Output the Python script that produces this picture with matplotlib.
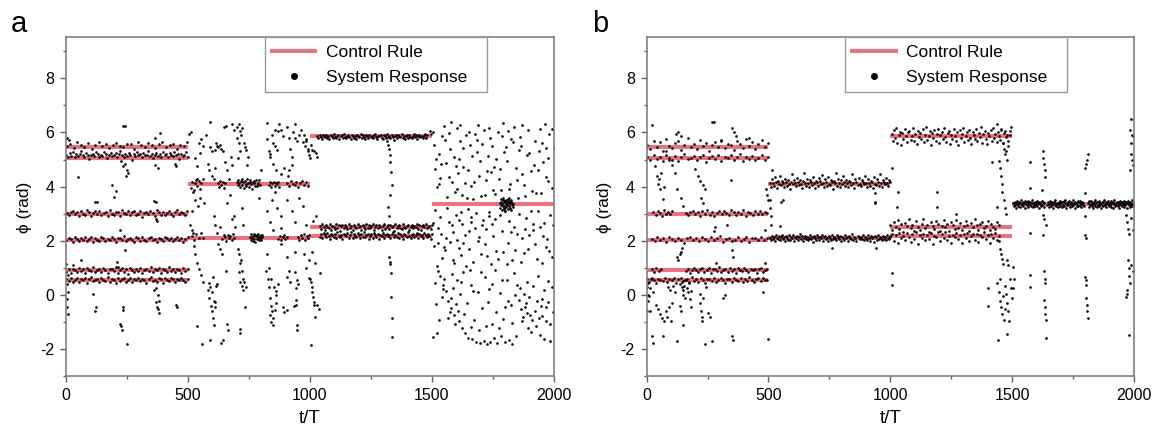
import numpy as np
import matplotlib
matplotlib.use("Agg")
import matplotlib.pyplot as plt
from matplotlib.lines import Line2D
from matplotlib.ticker import MultipleLocator

plt.rcParams["font.family"] = ["Liberation Sans", "DejaVu Sans"]
plt.rcParams["axes.unicode_minus"] = False

# control rule: phase set-point per time window (same for both panels)
rule_t0 = [0, 0, 0, 0, 0, 0, 500, 500, 1000, 1000, 1000, 1500]
rule_t1 = [500, 500, 500, 500, 500, 500, 1000, 1000, 1500, 1500, 1500, 2000]
rule_phi = [5.45, 5.05, 3.0, 2.05, 0.92, 0.55, 4.1, 2.12, 5.85, 2.52, 2.18, 3.35]

x_ticks = [0, 500, 1000, 1500, 2000]
y_ticks = [-2, 0, 2, 4, 6, 8]

# ---- panel a: runs of samples locked to a set-point, offsets in 0.01 rad ----
a_dy_545 = [5, 12, -3, 18, 8, 2, 15, -6, 10, 20, 4, 13, -2, 9, 17, 6, 0, 14, 11, -5, 19, 7, 3, 16, 9,
            -4, 12, 21, 1, 8, 14, -7, 10, 5, 18]
a_dy_505 = [12, 5, 18, 9, 22, 3, 14, 8, 16, 25, 10, 6, 19, 13, -2, 11, 17, 7, 21, 15, 4, 12, 9, 24, 16,
            1, 13, 20, 8, 11, 18, 6, 14, 27, 10, 3, 15, 9, 19, 12, -5, 16, 7, 22, 11, 14, 5, 18, 10, 13,
            26, 8, 17, 2, 12, 20, 9, 15, 6, 23, 11, 16, 4, 19, 13, 7, 21, 10, 14, -3, 17, 9, 12, 24, 6]
a_dy_300 = [3, -6, 8, 12, -2, 5, -9, 10, 1, -4, 14, 6, -8, 2, 9, -1, 11, -5, 4, 7, -10, 13, 0, -3, 8,
            5, -7, 15, 2, -2, 10, -6, 6, 12, -4, 1, 9, -11, 4, 7, -1, 11, 3, -8, 13, 5, -3, 8, -5, 2,
            10, 0, -9, 6, 14, -2, 7, 3, -6, 9]
a_dy_205 = [-3, 5, 1, -8, 9, 3, -5, 7, -1, 11, -6, 2, 8, -10, 4, 0, -4, 10, 6, -7, 3, -2, 9, 1, -9,
            5, 7, -3, 12, -5, 2, 6, -1, -8, 8, 4, -4, 10, 0, -6, 5, 9, -2, 3, -10, 7, 1, -5, 11, 4,
            -3, 6, -7, 2, 8, -1, 5, -9, 3, 10]
a_dy_092 = [-5, 3, -10, 6, 0, -7, 9, -2, 4, -12, 7, 1, -4, 10, -8, 2, 5, -6, 8, -1, -11, 6, 3, -3, 11,
            -9, 0, 7, -5, 4, -13, 9, 2, -6, 5, -2, 8, -10, 1, 6, -4, 10, -7, 3, -1, 7, -9, 5, 0, -5,
            12, -3, 4, -8, 6, 2, -11, 8, -2, 3]
a_dy_055 = [4, -3, 8, -7, 1, 10, -5, 5, -1, 7, -9, 3, 11, -4, 0, 6, -8, 9, 2, -2, 12, -6, 4, 1, -10,
            7, -3, 5, 9, -5, 0, 8, -7, 3, -1, 10, -4, 6, 2, -9, 5, 11, -2, 1, -6, 8, 3, -11, 7, 0,
            -3, 9, 4, -7, 6, -1, 10, 2, -5, 5]
a_dy_410a = [-15, 8, -22, 3, 15, -8, 10, -18, 5, 18]
a_dy_410b = [5, -10, 12, -4, 8, -15, 2]
a_dy_410c = [8, -5, 15, 2, -12, 10, 20, -3, 6, -15, 12, 1, -8, 18, 4, -10, 9, 14, -2, -18, 7, 11, 3,
             -6, 16, -9, 5, 0, 13, -4]
a_dy_410d = [-5, 6, -12, 2, 9, -8, 3, -2, 7, -10]
a_dy_410e = [4, -8, 10, 0, -5, 7, -10, 3, 12, -3, 6, -6]
a_dy_212a = [5, -8, 12, -3, 18, 0]
a_dy_212b = [-6, 8, 2, -12, 10, -2, 5, -9, 14, 0]
a_dy_212c = [3, -8, 12, 0, -12, 7, 15, -4, 9, -15, 5, 10, -6, 2, 13, -10, 6, -3, 11, -7, 8, 1]
a_dy_212d = [-4, 6, -10, 3, 9, -6, 1]
a_dy_212e = [2, -7, 9, -3, 12, -10, 5, 0, 8]
a_dy_585 = [2, -5, 6, -1, -8, 4, 0, -3, 7, -6, 3, -10, 5, 1, -4, 8, -2, -7, 3, 6, -9, 0, 4, -5, 9,
            -1, -6, 2, 5, -3, -11, 7, 1, -4, 3, -8, 6, 0, -2, 10, -6, 4, -1, -9, 5, 2, -5, 7, -3, 1,
            -7, 4, 8, -2, -10, 3, 0, 6, -4, -8, 5, 1, -6, 9, -1, 3, -5, 7, -3, -12, 2, 4, -7, 6, 0,
            -2, 8, -5, 3, -9, 1, 5, -4, 7, -1, -6, 2, 10, -3, 4, -8, 0, 6, -2, 3, -5, 1, 8, -7, 4]
a_dy_252 = [3, -8, 10, -2, -12, 6, 1, -5, 9, -10, 4, 0, -7, 11, -3, 7, -14, 2, 8, -6, 5, -1, -9, 12,
            -4, 3, -11, 6, 0, -5, 9, -2, 4, -13, 7, 1, -8, 10, -3, 5, -6, 2, 11, -10, 0, 6, -4, 8,
            -1, -12, 3, 9, -7, 1, 5, -9, 7, -2, 4, -15, 10, -5, 2, 6, -3, -8, 12, 0, -6, 4, 8, -11,
            1, 7, -4, 3, -1, 9, -7, 5, -10, 2, 6, -2, 11, -5, 0, 4, -9, 8]
a_dy_218 = [-2, 6, -8, 10, 3, -5, 12, 0, -10, 7, 2, -4, 9, -7, 14, 1, -3, 5, -11, 8, 4, -1, 11, -6,
            3, 13, -9, 6, 0, -5, 10, 2, -8, 7, -2, 15, -4, 4, 9, -12, 1, 6, -6, 11, 3, -3, 8, -10, 5,
            0, 12, -7, 2, 9, -1, 4, -9, 7, 13, -5, 3, -2, 10, -8, 6, 1, -11, 8, 4, -4, 14, 0, -6, 5,
            9, -3, 2, 11, -9, 7, -1, 3, -7, 12, 5, -5, 8, 0, -10, 6]
a_dy_335 = [5, -12, 18, -3, 10, -20, 2, 14, -8, 22, -15, 7, -5, 12, -25, 0, 16, -10, 8, -2, 20, -18,
            4, 11, -7, 25, -13, 3, 9, -22, 15, -4, 6, -9, 1]

a_run_t0 = [3, 2, 3, 2, 2, 2, 512, 622, 700, 832, 905, 518, 640, 755, 870, 950, 1030, 1040, 1040, 1778]
a_run_t1 = [497, 498, 497, 498, 498, 498, 560, 652, 795, 875, 992, 560, 690, 805, 905, 998, 1480, 1500,
            1500, 1832]
a_run_phi = [5.45, 5.05, 3.0, 2.05, 0.92, 0.55, 4.1, 4.1, 4.1, 4.1, 4.1, 2.12, 2.12, 2.12, 2.12, 2.12,
             5.85, 2.52, 2.18, 3.35]
a_run_dy = [a_dy_545, a_dy_505, a_dy_300, a_dy_205, a_dy_092, a_dy_055, a_dy_410a, a_dy_410b,
            a_dy_410c, a_dy_410d, a_dy_410e, a_dy_212a, a_dy_212b, a_dy_212c, a_dy_212d, a_dy_212e,
            a_dy_585, a_dy_252, a_dy_218, a_dy_335]

# ---- panel a: samples away from the set-points (t/T, phi) ----
a_scatter = [
    # t < 500
    (2, 1.15), (3, 5.8), (4, 0.4), (5, -0.15), (6, -0.45), (7, -0.7), (8, 0.1), (9, 0.75), (12, 5.72),
    (30, 1.1), (50, 4.37), (60, 1.3), (112, 0.06), (118, -0.6), (121, -0.45), (120, 3.45), (128, 3.42),
    (190, 4.05), (197, 3.62), (205, 3.85), (207, 1.22), (212, 1.05), (221, 2.42), (222, -1.05),
    (225, 4.95), (226, -1.15), (230, -1.3), (232, 6.25), (232, -0.45), (234, -0.55), (235, 4.75),
    (240, 6.22), (240, 4.85), (241, 1.65), (245, 4.4), (248, 4.6), (248, -1.82), (255, 4.5),
    (362, 0.2), (362, 3.48), (365, 5.8), (365, 4.8), (368, 0.27), (368, -0.25), (370, 3.45),
    (372, -0.45), (376, -0.5), (378, 4.7), (378, 0.0), (380, -0.2), (383, -0.65), (385, 5.97),
    (368, 2.8), (375, 2.75), (445, 4.85), (452, 4.75), (452, -0.35), (455, -0.45),
    # 500 - 1000, upper
    (505, 5.95), (514, 6.02), (520, 3.8), (528, 3.5), (530, 5.05), (535, 4.3), (538, 4.75), (545, 5.6),
    (548, 5.25), (550, 3.6), (555, 5.75), (560, 5.5), (565, 3.4), (575, 5.9), (580, 4.85), (585, 4.6),
    (590, 5.45), (590, 6.4), (598, 4.4), (600, 5.3), (605, 4.3), (610, 5.35), (612, 4.7), (615, 5.6),
    (620, 5.5), (625, 5.45), (630, 5.55), (635, 5.4), (645, 5.3), (648, 6.2), (652, 4.9), (656, 6.22),
    (660, 4.6), (668, 4.3), (675, 5.1), (680, 6.3), (682, 4.8), (690, 6.1), (700, 6.2), (700, 5.8),
    (705, 5.05), (708, 6.3), (710, 5.6), (712, 6.05), (715, 5.3), (718, 5.9), (722, 6.15), (728, 5.6),
    (732, 5.45), (738, 5.35), (742, 4.8), (745, 5.1), (790, 3.6), (800, 4.6), (822, 5.75), (825, 6.35),
    (830, 5.3), (835, 5.2), (838, 5.1), (845, 5.9), (848, 4.85), (850, 5.6), (855, 6.1), (858, 5.5),
    (860, 4.6), (865, 5.35), (870, 6.05), (875, 6.3), (880, 4.45), (883, 6.1), (890, 5.85), (895, 4.7),
    (905, 6.2), (910, 4.4), (912, 4.6), (915, 5.8), (920, 5.4), (925, 5.1), (926, 4.8), (930, 6.0),
    (938, 5.8), (940, 6.3), (945, 5.7), (955, 5.9), (962, 6.1), (970, 5.65), (975, 5.9), (978, 5.5),
    (982, 5.7), (985, 5.75), (990, 5.3), (992, 5.4), (995, 5.15), (1000, 5.05),
    # 500 - 1000, middle
    (510, 2.6), (515, 2.4), (518, 3.1), (540, 3.3), (605, 2.9), (612, 2.6), (618, 2.3), (625, 1.9),
    (630, 2.5), (632, 1.7), (640, 1.5), (660, 3.4), (672, 3.7), (680, 2.8), (688, 2.9), (692, 2.5),
    (703, 1.7), (708, 1.5), (712, 1.2), (720, 3.2), (726, 2.6), (822, 3.1), (835, 2.7), (845, 3.5),
    (850, 2.4), (858, 3.8), (866, 3.2), (880, 2.9), (883, 2.48), (905, 3.5), (925, 3.1), (940, 2.7),
    (955, 3.6), (970, 3.3), (985, 2.6),
    # 500 - 1000, lower
    (520, 2.3), (525, 1.8), (530, 1.5), (535, -1.15), (538, 1.2), (545, 0.95), (555, 0.75),
    (556, -1.8), (560, 0.5), (580, 0.2), (585, 0.45), (588, -0.1), (592, 0.3), (595, -0.4),
    (598, -0.6), (600, 0.1), (601, 0.68), (602, -0.85), (605, -0.2), (606, -1.1), (610, -0.45),
    (612, -0.25), (615, 0.35), (620, 0.4), (590, -1.65), (637, -1.78), (645, -1.65), (660, -1.05),
    (665, -1.3), (655, 0.9), (708, 0.85), (715, 0.5), (716, 1.3), (720, 0.9), (721, 0.35), (725, 0.6),
    (726, 0.2), (730, 0.5), (735, -0.45), (736, 0.3), (712, -1.25), (715, -1.4), (820, 0.9),
    (825, 1.5), (826, 0.6), (830, 1.0), (831, 0.3), (835, -0.1), (838, -0.75), (840, -0.4),
    (841, 0.6), (842, -1.0), (845, -0.6), (848, -1.1), (850, -0.85), (851, 0.3), (855, -0.55),
    (860, -0.3), (861, 0.0), (862, 0.15), (870, 0.4), (890, -0.45), (892, -0.61), (883, 1.87),
    (904, 0.67), (905, -0.55), (906, 1.4), (912, 0.9), (918, 0.5), (935, -0.4), (940, 1.59),
    (940, 0.86), (941, 0.25), (942, -0.18), (943, -0.37), (945, -1.1), (946, -1.29), (948, 0.55),
    (952, 0.4), (975, 1.5), (985, 1.0), (995, 0.65), (997, 1.28),
    # 1000 - 1500
    (1002, 0.61), (1005, 0.49), (1008, 0.31), (1010, 0.12), (1012, -0.06), (1015, -0.24),
    (1018, -0.37), (1020, -0.8), (1004, -1.84), (1040, 0.8), (1030, -0.37), (1035, -0.5),
    (1005, 5.55), (1010, 5.35), (1018, 5.3), (1025, 5.25), (1030, 5.1), (1012, 2.75), (1025, 2.9),
    (1010, 1.6), (1020, 1.2), (1315, 5.7), (1320, 5.55), (1322, 5.4), (1326, 5.15), (1330, 4.9),
    (1334, 4.55), (1337, 4.05), (1328, 3.7), (1318, 3.24), (1325, 1.41), (1328, 1.23), (1330, 1.16),
    (1332, 0.8), (1334, -0.06), (1336, -0.86), (1338, -1.53), (1322, 2.9), (1490, 6.05), (1495, 5.95),
    # 1500 - 2000, upper
    (1731, 5.12), (1568, 4.37), (1894, 6.08), (1622, 3.71), (1807, 4.93), (1543, 5.86), (1976, 4.21),
    (1689, 6.27), (1512, 4.64), (1853, 3.58), (1745, 5.49), (1601, 6.15), (1938, 5.33), (1659, 4.02),
    (1784, 3.89), (1527, 5.21), (1962, 6.31), (1616, 5.68), (1871, 4.47), (1702, 3.64), (1557, 4.88),
    (1823, 5.77), (1990, 3.95), (1647, 4.61), (1769, 6.02), (1508, 5.55), (1917, 4.79), (1676, 5.94),
    (1593, 3.82), (1838, 6.19), (1721, 4.26), (1952, 5.61), (1580, 6.38), (1796, 5.28), (1634, 4.14),
    (1883, 3.67), (1534, 4.33), (1756, 4.71), (1999, 5.42), (1668, 3.53), (1611, 5.03), (1862, 5.84),
    (1713, 6.09), (1928, 3.78), (1549, 6.22), (1819, 4.1), (1698, 4.95), (1575, 5.38), (1905, 4.56),
    (1760, 3.74), (1639, 5.91), (1974, 5.07), (1521, 3.99), (1846, 4.68), (1683, 5.26), (1606, 4.49),
    (1943, 6.11), (1738, 5.81), (1792, 6.33), (1562, 3.61), (1889, 5.17), (1652, 6.02), (1815, 3.93),
    (1707, 5.57), (1537, 4.83), (1966, 4.34), (1629, 5.41), (1775, 4.28), (1870, 6.26), (1589, 5.09),
    (1921, 5.69), (1671, 4.18), (1749, 3.86), (1503, 6.01), (1857, 5.36), (1726, 4.58), (1981, 5.93),
    (1597, 4.76), (1645, 3.57), (1831, 5.63), (1763, 5.01), (1909, 3.84), (1553, 5.72), (1694, 4.41),
    (1613, 6.29), (1876, 4.05), (1956, 4.9), (1735, 6.18), (1581, 4.17), (1803, 5.46), (1663, 5.14),
    (1933, 4.63), (1516, 5.03), (1848, 4.24), (1719, 3.69), (1787, 5.88), (1627, 4.72), (1994, 6.12),
    (1571, 5.97), (1899, 5.25), (1656, 5.52), (1742, 4.53), (1529, 4.09), (1812, 6.05), (1946, 3.76),
    (1685, 5.73), (1604, 3.92), (1866, 5.49), (1779, 4.66), (1969, 5.44),
    # 1500 - 2000, middle
    (1693, 2.14), (1541, 1.37), (1887, 2.83), (1617, 3.06), (1764, 1.62), (1523, 2.49), (1952, 1.18),
    (1658, 2.71), (1811, 1.94), (1586, 2.32), (1935, 3.12), (1724, 1.46), (1507, 1.83), (1849, 2.27),
    (1640, 1.09), (1778, 2.96), (1973, 2.06), (1563, 3.21), (1706, 2.58), (1829, 1.28), (1609, 1.74),
    (1916, 2.42), (1681, 3.03), (1752, 2.19), (1532, 2.87), (1878, 1.56), (1625, 2.63), (1992, 1.41),
    (1794, 3.17), (1573, 1.96), (1740, 1.13), (1858, 3.01), (1651, 1.69), (1923, 1.88), (1514, 3.14),
    (1711, 2.76), (1836, 2.51), (1599, 2.94), (1961, 2.66), (1669, 1.24), (1786, 2.38), (1548, 1.76),
    (1904, 3.09), (1732, 2.91), (1635, 2.23), (1871, 2.09), (1592, 1.19), (1817, 2.72), (1978, 1.61),
    (1700, 1.52), (1559, 2.12), (1944, 2.53), (1661, 2.88), (1770, 1.34), (1519, 1.08), (1894, 1.71),
    (1621, 1.47), (1801, 3.11), (1746, 2.64), (1984, 2.97), (1581, 2.57), (1863, 1.22), (1688, 1.98),
    (1930, 1.32), (1536, 2.26), (1758, 2.81), (1646, 3.16), (1822, 2.31), (1604, 2.04), (1913, 2.61),
    (1716, 1.89), (1570, 2.69), (1841, 1.67), (1956, 2.18), (1675, 2.46), (1503, 2.67), (1790, 1.58),
    (1628, 1.91), (1881, 2.45), (1735, 3.08), (1555, 1.65), (1969, 1.79), (1653, 2.36), (1807, 1.15),
    (1587, 1.29), (1899, 2.22), (1722, 2.44), (1526, 1.91), (1997, 2.58), (1612, 2.78),
    # 1500 - 2000, lower
    (1547, 0.38), (1566, -0.21), (1592, -0.73), (1534, 0.72), (1611, -0.94), (1558, 0.14),
    (1579, -0.48), (1603, 0.55), (1541, -0.06), (1588, 0.27), (1625, -1.22), (1572, -0.62),
    (1551, 0.61), (1597, -0.31), (1616, 0.04), (1564, -0.83), (1637, -1.41), (1583, 0.79),
    (1606, -0.57), (1545, 0.24), (1649, -1.57), (1620, 0.48), (1576, -0.12), (1663, -1.63),
    (1631, -0.69), (1594, -1.05), (1681, -1.72), (1658, 0.36), (1697, -1.76), (1642, -0.28),
    (1712, -1.69), (1673, -0.91), (1725, -1.8), (1690, 0.12), (1706, -0.47), (1739, -1.74),
    (1661, -1.18), (1718, 0.68), (1753, -1.58), (1731, -0.24), (1768, -1.77), (1746, 0.41),
    (1784, -1.49), (1762, -0.63), (1798, -1.71), (1777, 0.09), (1814, -1.66), (1791, -0.88),
    (1829, -1.79), (1806, 0.57), (1843, -1.52), (1822, -0.37), (1858, -0.18), (1866, -0.52),
    (1873, -0.81), (1861, 0.26), (1880, -0.44), (1869, -0.97), (1888, -0.66), (1877, 0.03),
    (1895, -1.23), (1884, -0.29), (1903, -0.73), (1891, 0.47), (1912, -0.9), (1898, -0.08),
    (1921, -0.58), (1907, -1.37), (1929, -0.21), (1916, 0.33), (1937, -0.86), (1926, -1.14),
    (1945, -0.39), (1934, 0.71), (1953, -0.77), (1941, -1.46), (1961, 0.18), (1949, -0.16),
    (1969, -0.95), (1958, -1.6), (1977, 0.52), (1966, -0.42), (1985, -1.08), (1974, -0.27),
    (1993, 0.29), (1982, -1.68), (1998, -0.61), (1511, 0.46), (1519, -1.39), (1504, -1.53),
    (1526, 0.88), (1515, -0.33), (1530, -0.9), (1700, 0.84), (1735, 0.22), (1759, 0.93), (1787, 0.55),
    (1811, -0.21), (1835, 0.81), (1850, 0.37), (1654, 0.92), (1668, 0.17), (1628, 0.86),
    (1746, -1.05), (1773, -1.21), (1799, -0.44), (1827, -1.02), (1840, 0.02), (1693, -1.29),
    (1723, -1.12),
]

# ---- panel b: runs of samples locked to a set-point, offsets in 0.01 rad ----
b_dy_545 = [10, -8, 25, 3, 18, -12, 30, 6, -4, 15, 22, -10, 8, 33, 0, 12, -6, 27, 4, 17, -14, 9, 20,
            1, 28, -3, 14, 7, -9, 24, 11, -1, 31, 5, 19, -7, 13, 26, 2, 16]
b_dy_505 = [3, -8, 10, -2, 6, -12, 12, 1, -5, 8, -10, 4, 14, -3, 0, 9, -7, 5, 11, -14, 2, 7, -4, 13,
            -9, 6, -1, 10, -6, 3, 15, -11, 5, -3, 8, -7, 1, 12, -5, 4]
b_dy_300a = [5, -6, 10, 2, -8, 13, -2, 7, 0, 11]
b_dy_300b = [3, -5, 8, 12, -2, 6, -9, 10, 1, 15, -4, 7, -7, 4, 11, -1, 9, 2, -6, 13, 5, -3, 8, 0, 14,
             -8, 6, 3, -5, 10, 1, 12, -2, 7, 4]
b_dy_205 = [2, -6, 8, -1, 5, -9, 10, 3, -4, 7, 0, -11, 6, 9, -3, 4, -7, 11, 1, -5, 8, -2, 5, 12, -8,
            3, 7, -4, 0, 10, -6, 2, 9, -10, 4, 6, -1, 11, -3, 5]
b_dy_092a = [3, -6, 8, -2, 5]
b_dy_092b = [-4, 6, -9, 2, 8, -1, -7, 4, 9, -5, 0, 7, -10, 3, 6, -3, 10, -8, 1, 5, -6, 8, -2, 4, -11,
             7, 0, -4, 9, 2, -7, 5, -1, 6, -9, 3, 8, -5, 1, 4]
b_dy_055 = [4, -5, 8, 0, -9, 6, 2, -3, 10, -7, 5, -1, 7, -11, 3, 9, -4, 1, 6, -8, 11, -2, 4, -6, 8,
            0, -10, 5, 3, -4, 9, -7, 2, 7, -1, -9, 6, 4, -5, 10, 1, -3, 8, -8, 5, -2, 12, 0, -6, 3,
            7, -4, 9, -1, 2]
b_dy_410 = [5, -10, 18, 2, -6, 25, 8, -15, 12, 0, 30, -4, 10, 3, -12, 20, 6, -8, 15, 1, -20, 9, 35,
            -2, 13, 4, -9, 22, 7, -5, 16, 0, -14, 11, 40, 3, -7, 19, 5, -11, 14, 8, -3, 27, 2, -16,
            12, 6, -6, 21, 10, -1, 33, 4, -13, 17, 7, -8, 24, 1, -4, 15, 9, -18, 12, 3, 42, -6, 20,
            5, -10, 13, 0, 28, 8, -7, 16, 2, -12, 11, 6, -3, 36, 4, -15, 18, 9, -5, 23, 1, -9, 14, 7,
            -2, 30, 3, -11, 19, 5, -6, 12, 8, -14, 26, 0, -4, 17, 6, -8, 38, 2, -10, 15, 9, -1, 22,
            4, -7, 13, 7]
b_dy_210 = [2, -6, 8, -3, 5, -10, 11, 0, -4, 7, -8, 3, 13, -2, 6, -12, 9, 1, -5, 10, -7, 4, 0, 12,
            -9, 5, -1, 8, -6, 3, 14, -3, 7, -11, 2, 9, -4, 6, -8, 1, 11, -2, 5, -13, 8, 0, -5, 10, 3,
            -7, 6, -1, 12, -9, 4, 7, -3, 2, -10, 9, 1, -6, 13, -4, 5, 0, -8, 11, 3, -2, 7, -12, 6, 2,
            -5, 10, -1, 4, -9, 8, 0, -3, 14, -7, 5, 1, -11, 9, 3, -4, 6, -2, 12, -8, 4, 0, -6, 10, 2,
            -10, 7, -1, 5, -13, 9, 3, -5, 11, -3, 6, 1, -8, 8, -2, 4, -7, 13, 0, -4, 7]
b_dy_585 = [10, -15, 25, -5, 30, -25, 5, 18, -30, 12, -8, 28, 0, -20, 15, 22, -12, 3, 33, -18, 8, -28,
            20, -2, 14, -10, 26, -22, 6, 35, -14, 1, 19, -32, 11, -6, 24, -17, 9, 29, -24, 4, 16, -9,
            31, -3, -19, 13, 21, -27, 7, -11, 27, 2, -16, 17, -33, 23, -7, 10, 32, -21, 0, 15, -13,
            25, -4, -26, 18, 5, -10, 28, -18, 12, -1, 34, -23, 8, 20, -8, -29, 14, 3, 24, -15, 30, -5,
            9, -20, 16, 1, -12, 26, -25, 11, 19, -3, 6, -17, 22]
b_dy_252 = [5, -12, 18, 0, 25, -8, 10, -18, 14, 3, 28, -5, 8, -15, 20, 1, -10, 12, 30, -3, 6, -20, 16,
            2, -7, 22, 9, -14, 4, 26, -1, 11, -17, 19, 7, -9, 24, -4, 13, -12, 2, 21, 8, -16, 15, -2,
            27, 5, -11, 10, 18, -6, 3, 23, -13, 12, 0, -8, 17, 6]
b_dy_218 = [-5, 8, -18, 3, -25, 10, -8, 0, -14, 12, -2, -22, 6, -10, 14, -28, 2, -6, 9, -16, 4, -12,
            11, -30, 1, -4, 13, -20, 7, -9, 15, -15, 0, -24, 5, -3, 10, -11, 3, -27, 8, -7, 12, -18,
            -1, 6, -13, 9, -21, 2, -5, 14, -10, 4, -26, 7, -8, 11, -15, 0]
b_dy_335a = [3, -8, 10, -2, 6, -12, 12, 0, -5, 8, -10, 4, 14, -3, 1, 9, -7, 5, 11, -14, 2, 7, -4, 13,
             -9, 6, -1, 10, -6, 3, 15, -11, 5, -3, 8, -7, 1, 12, -5, 4, -13, 9, 0, 6, -8, 11, -2, 7,
             -10, 3]
b_dy_335b = [-4, 7, -10, 2, 12, -6, 5, -1, 9, -13, 3, 8, -3, 14, -8, 1, 6, -11, 10, 0, -5, 13, 4, -9,
             7, -2, 11, -7, 3, 15, -12, 5, -1, 9, -4, 12, 2, -10, 8, -6, 0, 14, -3, 6, -14, 10, 1, -8,
             4, 11, -5, 7, -2, 13, -9, 3, 9, -1, 5, -7]
b_dy_335c = [6, -9, 11, -3, 2, 13, -7, 4, -12, 9, 0, -5, 14, 3, -10, 8, -2, 12, -6, 5, 1, -14, 10, -1,
             7, -8, 15, 2, -4, 9, -11, 6, 0, 12, -7, 3, -3, 11, -9, 5, 8, -13, 1, 14, -5, 4, -1, 10,
             -8, 7, 2, -12, 13, -3, 6, -6, 9, 0, -10, 11, 4, -2, 8, -15, 3, 12, -4, 5, -9, 10, 1, -7,
             14, -1, 6]

b_run_t0 = [3, 3, 28, 160, 20, 20, 160, 2, 505, 505, 1005, 1000, 1000, 1505, 1645, 1812]
b_run_t1 = [497, 497, 105, 495, 495, 60, 495, 495, 998, 998, 1490, 1445, 1445, 1632, 1795, 1998]
b_run_phi = [5.45, 5.05, 3.0, 3.0, 2.05, 0.92, 0.92, 0.55, 4.1, 2.1, 5.85, 2.52, 2.18, 3.35, 3.35, 3.35]
b_run_dy = [b_dy_545, b_dy_505, b_dy_300a, b_dy_300b, b_dy_205, b_dy_092a, b_dy_092b, b_dy_055,
            b_dy_410, b_dy_210, b_dy_585, b_dy_252, b_dy_218, b_dy_335a, b_dy_335b, b_dy_335c]

# ---- panel b: samples away from the set-points (t/T, phi) ----
b_scatter = [
    # t < 500
    (2, 0.3), (3, -0.6), (4, 0.0), (5, -0.2), (7, 0.45), (10, -0.05), (12, 0.25), (14, -0.57),
    (18, 0.6), (20, 6.27), (20, -1.5), (27, -1.75), (25, 0.1), (35, 4.75), (40, -0.35), (42, 4.4),
    (48, 4.1), (48, -0.5), (52, 4.3), (55, 3.9), (55, -0.7), (60, 4.5), (62, -0.85), (65, 3.55),
    (68, -1.5), (70, 4.0), (70, -0.95), (78, -0.6), (80, 5.3), (85, -0.8), (88, 0.3), (90, 5.0),
    (92, -0.45), (95, 0.2), (100, -0.95), (105, 4.8), (105, -0.3), (110, 0.35), (115, 4.5), (118, 0.1),
    (122, 5.95), (123, -1.7), (125, 3.9), (125, 1.4), (130, 6.0), (130, 1.3), (135, 1.5), (137, -0.4),
    (138, 0.4), (140, 3.6), (140, 5.85), (141, 1.6), (142, -0.6), (143, 0.3), (145, 1.75), (146, 0.5),
    (148, 0.0), (150, 3.3), (150, 0.2), (151, -1.1), (155, 0.35), (158, -0.1), (160, 0.55), (165, 0.25),
    (170, 0.1), (175, 0.45), (177, -0.15), (180, 0.15), (181, -0.45), (200, 4.65), (210, 4.4),
    (218, -0.3), (219, 0.05), (220, 4.2), (222, -0.6), (225, 3.6), (226, -0.8), (228, -0.95),
    (230, 4.05), (231, -0.1), (232, 3.4), (240, 3.9), (241, -1.8), (245, 0.3), (252, -0.65),
    (258, -0.8), (267, 6.4), (268, -1.7), (275, 6.38), (276, 2.35), (282, 2.5), (283, 1.2),
    (305, 5.7), (315, -0.1), (323, 0.0), (330, 2.6), (345, 4.25), (350, 1.65), (351, -1.5),
    (352, 6.15), (355, 1.4), (356, -1.65), (360, 6.0), (368, 5.85), (420, 5.8), (478, 0.1),
    (485, 1.2), (486, 2.4), (488, 3.9), (493, 3.7), (496, -1.6), (498, 3.5),
    # 500 - 1000
    (505, 3.5), (508, 3.2), (510, 2.9), (512, 2.6), (515, 4.6), (547, 2.54), (553, 3.45), (560, 3.5),
    (760, 1.75), (937, 3.4), (938, 3.75), (939, 3.45), (940, 1.75),
    # 1000 - 1500
    (1005, 0.82), (1006, 0.37), (1005, 4.7), (1030, 3.8), (1190, 3.8), (1418, 4.9), (1026, 3.25),
    (1192, 3.25), (1270, 3.0), (1440, 3.25), (1440, 6.3), (1455, 6.1), (1462, 5.6), (1468, 5.4),
    (1472, 5.2), (1475, 5.3), (1480, 5.0), (1485, 5.5), (1490, 5.9), (1495, 6.2), (1448, 4.95),
    (1452, 4.7), (1455, 4.4), (1458, 4.1), (1460, 3.8), (1465, 3.5), (1470, 3.2), (1475, 3.0),
    (1445, 2.0), (1450, 1.7), (1455, 1.5), (1460, 1.35), (1462, 1.15), (1480, 1.3), (1482, 1.1),
    (1400, 0.25), (1400, -0.4), (1440, 0.45), (1445, 0.1), (1450, -0.2), (1455, -0.45), (1460, -0.7),
    (1465, -0.9), (1470, 0.35), (1475, 0.05), (1480, -0.3), (1485, -0.6), (1490, 0.6), (1495, 0.25),
    (1500, -0.1), (1452, 0.6), (1462, -0.05), (1472, -0.5), (1488, -0.95), (1443, -1.65),
    (1478, -1.45), (1505, 1.05), (1508, 0.6), (1505, 0.25),
    # 1500 - 2000
    (1573, 4.92), (1573, 3.94), (1573, 2.3), (1573, 0.74), (1574, 0.31), (1625, 5.3), (1628, 5.05),
    (1630, 4.85), (1633, 4.6), (1636, 4.35), (1622, 3.88), (1625, 2.96), (1628, 2.23), (1630, 0.88),
    (1633, 0.6), (1636, 0.44), (1632, -0.18), (1634, -0.45), (1636, -0.7), (1638, -0.92),
    (1640, -1.58), (1630, 2.8), (1640, 2.6), (1810, 5.2), (1807, 5.0), (1803, 4.85), (1800, 4.7),
    (1798, 3.76), (1800, 2.9), (1800, 2.2), (1803, 2.1), (1800, 0.66), (1802, 0.55), (1805, 0.37),
    (1805, -0.1), (1807, -0.35), (1808, -0.6), (1810, -0.85), (1990, 6.5), (1985, 6.1), (1992, 5.9),
    (1995, 5.85), (1988, 5.6), (1990, 5.2), (1993, 5.0), (1996, 4.8), (1985, 4.6), (1968, 2.95),
    (1972, 2.7), (1975, 2.45), (1978, 2.25), (1990, 2.85), (1995, 2.4), (1975, 1.3), (1978, 1.0),
    (1980, 0.7), (1982, 0.45), (1970, 0.2), (1972, 0.05), (1968, -0.06), (1990, 1.1), (1995, 0.9),
    (1980, -1.47),
]

RULE_COLOR = "#f26d7b"
SPINE_COLOR = "#808080"


def run_points(t0s, t1s, levels, offsets):
    """Samples hugging a set-point, spread evenly over their time window."""
    ts, ps = [], []
    for t0, t1, lvl, dy in zip(t0s, t1s, levels, offsets):
        ts.append(np.linspace(t0, t1, len(dy)))
        ps.append(lvl + np.asarray(dy) / 100.0)
    return np.concatenate(ts), np.concatenate(ps)


def draw_panel(ax, run_t0, run_t1, run_phi, run_dy, scatter):
    for t0, t1, lvl in zip(rule_t0, rule_t1, rule_phi):
        ax.plot([t0, t1], [lvl, lvl], color=RULE_COLOR, lw=2.8, solid_capstyle="butt", zorder=1)

    t_run, p_run = run_points(run_t0, run_t1, run_phi, run_dy)
    t_sc, p_sc = np.array(scatter).T
    ax.plot(np.concatenate([t_run, t_sc]), np.concatenate([p_run, p_sc]),
            ls="none", marker="o", ms=1.9, mew=0, color="black", zorder=2)

    ax.set_xlim(0, 2000)
    ax.set_ylim(-3, 9.5)
    ax.set_xticks(x_ticks)
    ax.set_yticks(y_ticks)
    ax.xaxis.set_minor_locator(MultipleLocator(250))
    ax.yaxis.set_minor_locator(MultipleLocator(1))
    for s in ax.spines.values():
        s.set_color(SPINE_COLOR)
        s.set_linewidth(1.2)
    ax.tick_params(which="both", direction="out", color="#606060", width=1.0,
                   labelsize=11.5, pad=4.5)
    ax.tick_params(which="major", length=4)
    ax.tick_params(which="minor", length=2.5)
    ax.set_xlabel("t/T", fontsize=13.5, labelpad=5)
    ax.set_ylabel("\u03d5 (rad)", fontsize=12.5, labelpad=6)

    handles = [
        Line2D([], [], color=RULE_COLOR, lw=2.8),
        Line2D([], [], ls="none", marker="o", ms=4, color="black"),
    ]
    leg = ax.legend(handles, ["Control Rule", "System Response"], loc="upper left",
                    bbox_to_anchor=(0.408, 0.0, 0.455, 1.0), mode="expand", borderaxespad=0,
                    fontsize=12.5, fancybox=False, framealpha=1, handlelength=2.5,
                    handletextpad=0.6, labelspacing=0.6, borderpad=0.4)
    leg.get_frame().set_edgecolor("#9a9a9a")
    leg.get_frame().set_linewidth(1.0)


fig = plt.figure(figsize=(11.56, 4.29), dpi=100)
ax_a = fig.add_axes([0.0571, 0.1224, 0.4221, 0.7902])
ax_b = fig.add_axes([0.5594, 0.1224, 0.4215, 0.7902])

draw_panel(ax_a, a_run_t0, a_run_t1, a_run_phi, a_run_dy, a_scatter)
draw_panel(ax_b, b_run_t0, b_run_t1, b_run_phi, b_run_dy, b_scatter)

fig.text(0.009, 0.925, "a", fontsize=21)
fig.text(0.512, 0.925, "b", fontsize=21)

fig.savefig("out.png", dpi=100)
